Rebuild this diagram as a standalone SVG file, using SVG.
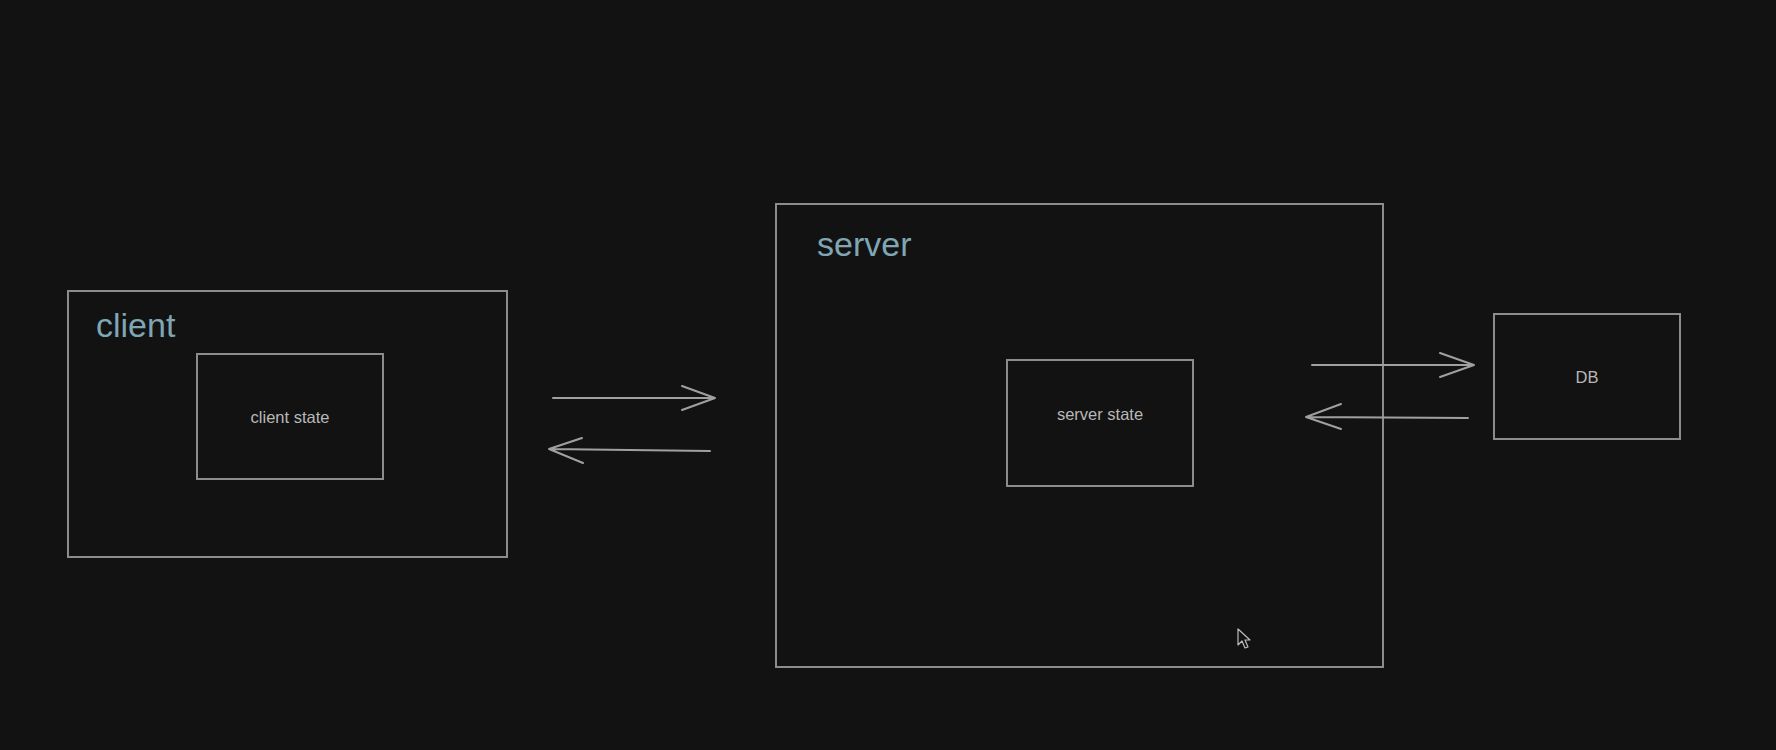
<svg xmlns="http://www.w3.org/2000/svg" width="1776" height="750" viewBox="0 0 1776 750">
<defs>
<style>
.box{fill:none;stroke:#8c8c8c;stroke-width:2}
.title{font-family:"Liberation Sans",Arial,sans-serif;font-size:34px;fill:#7fa6b2}
.lbl{font-family:"Liberation Sans",Arial,sans-serif;font-size:16.5px;fill:#b8b8b8;text-anchor:middle}
.arr{fill:none;stroke:#a0a0a0;stroke-width:2;stroke-linecap:round;stroke-linejoin:round}
</style>
</defs>
<rect width="1776" height="750" fill="#121212"/>
<g id="client">
<rect class="box" x="68" y="291" width="439" height="266"/>
<text class="title" x="96" y="337">client</text>
</g>
<g id="client-state">
<rect class="box" x="197" y="354" width="186" height="125"/>
<text class="lbl" x="290" y="423">client state</text>
</g>
<g id="server">
<rect class="box" x="776" y="204" width="607" height="463"/>
<text class="title" x="817" y="256">server</text>
</g>
<g id="server-state">
<rect class="box" x="1007" y="360" width="186" height="126"/>
<text class="lbl" x="1100" y="420">server state</text>
</g>
<g id="db">
<rect class="box" x="1494" y="314" width="186" height="125"/>
<text class="lbl" x="1587" y="383">DB</text>
</g>
<g id="connectors">
<path class="arr" d="M553 398 L715 398 M682 386 L715 398 L682 410"/>
<path class="arr" d="M710 451 L549 449 M582 438 L549 449 L583 463"/>
<path class="arr" d="M1312 365 L1474 365 M1440 353 L1474 365 L1440 377"/>
<path class="arr" d="M1468 418 L1306 417 M1341 404 L1306 417 L1341 429"/>
</g>
<path d="M1238 629 L1238 645 L1242 641 L1245 648 L1248 647 L1245 640 L1250 640 Z" fill="#121212" stroke="#bdbdbd" stroke-width="1.2" stroke-linejoin="round"/>
</svg>
